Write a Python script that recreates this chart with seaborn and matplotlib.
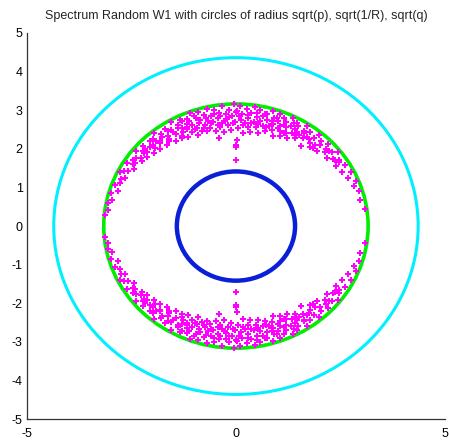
import numpy as np
import pandas as pd
import seaborn as sns
import matplotlib.pyplot as plt
from matplotlib.patches import Circle

# radii of the reference circles: sqrt(1/R), sqrt(p), sqrt(q)
circle_radii = [1.414, 3.162, 4.359]
circle_colors = ["#0a1fd8", "#00ee00", "#00f0ff"]
circle_widths = [3.2, 2.6, 2.2]

eig_angle = [8, 13, 17, 20, 22, 25, 27, 29,
             31, 33, 35, 36, 38, 39, 41, 42, 44, 45,
             46, 47, 48, 49, 50, 51, 52, 53, 54, 55, 56, 57, 58, 59, 60,
             61, 61.5, 62, 63, 63.5, 64, 65, 65.5, 66, 67, 67.5, 68, 69, 69.5, 70,
             71, 71.5, 72, 73, 73.5, 74, 75,
             75.5, 76, 77, 77.5, 78, 79, 79.5, 80, 81, 81.5, 82, 83, 83.5, 84, 85,
             85.5, 86, 87, 87.5, 88, 89, 89.5,
             90.5, 91, 92, 92.5, 93, 94, 94.5, 95, 96, 96.5, 97, 98, 98.5, 99, 100,
             101, 101.5, 102, 103, 103.5, 104, 105,
             105.5, 106, 107, 107.5, 108, 109, 110, 110.5, 111, 112, 113, 113.5, 114,
             115, 116, 116.5, 117, 118, 119, 120,
             121, 122, 123, 124, 125, 126, 127, 128, 129, 130, 131, 132, 133, 134, 135,
             136, 137, 138, 139, 140, 141, 142, 143, 145, 146, 148, 149,
             151, 153, 155, 156, 158, 160, 162, 164, 167, 169, 172, 175,
             # second, denser layer near the top of the band
             56.5, 58.5, 60.5, 62.5, 64.5, 66.5, 68.5, 70.5, 72.5, 74.5, 76.5, 78.5,
             80.5, 82.5, 84.5, 86.5, 88.5, 90, 91.5, 93.5, 95.5, 97.5, 99.5, 100.5,
             102.5, 104.5, 106.5, 108.5, 109.5, 111.5, 112.5, 114.5, 115.5, 117.5,
             118.5, 119.5, 121.5, 123.5, 125.5, 127.5, 129.5, 131.5, 133.5, 137.5,
             139.5, 143.5, 147, 152, 34, 37, 40, 43, 47.5, 50.5, 53.5, 57.5]
eig_mod = [3.12, 3.05, 3.08, 3.0, 3.1, 2.95, 3.08, 2.9,
           3.05, 2.85, 3.0, 2.92, 3.1, 2.8, 2.95, 2.88, 3.05, 2.75,
           2.9, 3.0, 2.82, 2.7, 3.08, 2.95, 2.85, 2.6, 3.0, 2.78, 2.92, 3.1, 2.68, 2.85, 2.98,
           2.75, 3.05, 2.58, 2.9, 2.7, 3.1, 2.82, 2.55, 2.95, 2.68, 3.02, 2.8, 2.5, 2.9, 3.08,
           2.62, 2.78, 2.95, 2.7, 3.1, 2.55, 2.85,
           3.0, 2.66, 2.92, 2.48, 2.78, 3.06, 2.6, 2.88, 2.72, 3.12, 2.45, 2.95, 2.58, 2.82, 3.05,
           2.68, 2.42, 2.9, 2.75, 3.1, 2.55, 2.98,
           2.7, 3.15, 2.85, 2.5, 3.0, 2.62, 2.92, 2.78, 3.12, 2.44, 2.68, 2.95, 2.58, 2.82, 3.05,
           2.5, 2.75, 2.9, 3.1, 2.62, 2.8, 2.98,
           2.55, 2.72, 3.08, 2.88, 2.6, 2.95, 2.7, 3.12, 2.52, 2.82, 3.0, 2.65, 2.9,
           2.76, 3.06, 2.58, 2.85, 2.96, 2.68, 3.1,
           2.78, 2.92, 2.62, 3.04, 2.85, 2.72, 2.98, 2.66, 3.1, 2.82, 2.92, 2.7, 3.02, 2.8, 2.9,
           2.74, 3.05, 2.86, 2.95, 2.78, 3.08, 2.88, 2.82, 3.0, 2.9, 3.06, 2.85,
           2.95, 3.1, 2.92, 3.02, 2.98, 3.08, 2.96, 3.1, 3.04, 3.12, 3.08, 3.14,
           2.96, 2.76, 2.88, 3.0, 2.66, 2.86, 2.72, 2.96, 2.84, 2.66, 2.98, 2.7,
           2.98, 2.68, 2.9, 2.62, 2.84, 2.95, 2.66, 2.84, 2.72, 2.88, 2.66, 2.94,
           2.72, 2.9, 2.66, 2.8, 3.02, 2.7, 2.94, 2.82, 3.0, 2.74,
           2.9, 2.62, 2.86, 2.96, 2.76, 2.92, 2.86, 3.0, 2.88, 2.96,
           2.9, 2.96, 2.94, 3.04, 2.96, 2.9, 3.0, 2.94, 2.74, 2.8, 2.86, 2.8]

# eigenvalues lying on (or very near) the imaginary axis, upper half
axis_re = [0.0, 0.0, 0.01, 0.02, -0.41]
axis_im = [1.71, 2.05, 2.10, 2.23, 2.28]

th = np.deg2rad(eig_angle)
re_up = list(np.array(eig_mod) * np.cos(th)) + axis_re
im_up = list(np.array(eig_mod) * np.sin(th)) + axis_im
# real matrix -> eigenvalues come in conjugate pairs
eig = pd.DataFrame({"re": re_up + re_up, "im": im_up + [-v for v in im_up]})

sns.set_style("white")
plt.rcParams["font.family"] = ["Liberation Sans", "DejaVu Sans"]
plt.rcParams["axes.unicode_minus"] = False

fig = plt.figure(figsize=(4.49, 4.45), dpi=100)
ax = fig.add_axes([0.060, 0.058, 0.931, 0.868])

for r, c, lw in zip(circle_radii, circle_colors, circle_widths):
    ax.add_patch(Circle((0, 0), r, fill=False, edgecolor=c, linewidth=lw, zorder=2))

sns.scatterplot(data=eig, x="re", y="im", marker="P", color="#ff00ff",
                s=20, linewidth=0, ax=ax, zorder=3)

ax.set_xlim(-5, 5)
ax.set_ylim(-5, 5)
ax.set_xticks([-5, 0, 5])
ax.set_yticks(range(-5, 6))
ax.set_xlabel("")
ax.set_ylabel("")
ax.set_title("Spectrum Random W1 with circles of radius sqrt(p), sqrt(1/R), sqrt(q)",
             fontsize=9, pad=10)
for s in ["top", "right"]:
    ax.spines[s].set_visible(False)
for s in ["left", "bottom"]:
    ax.spines[s].set_color("#333333")
    ax.spines[s].set_linewidth(0.9)
ax.tick_params(direction="in", length=4, width=0.9, colors="#333333",
               labelcolor="black", labelsize=9)
ax.tick_params(axis="y", pad=3)
ax.tick_params(axis="x", pad=6)

fig.savefig("out.png", dpi=100)
